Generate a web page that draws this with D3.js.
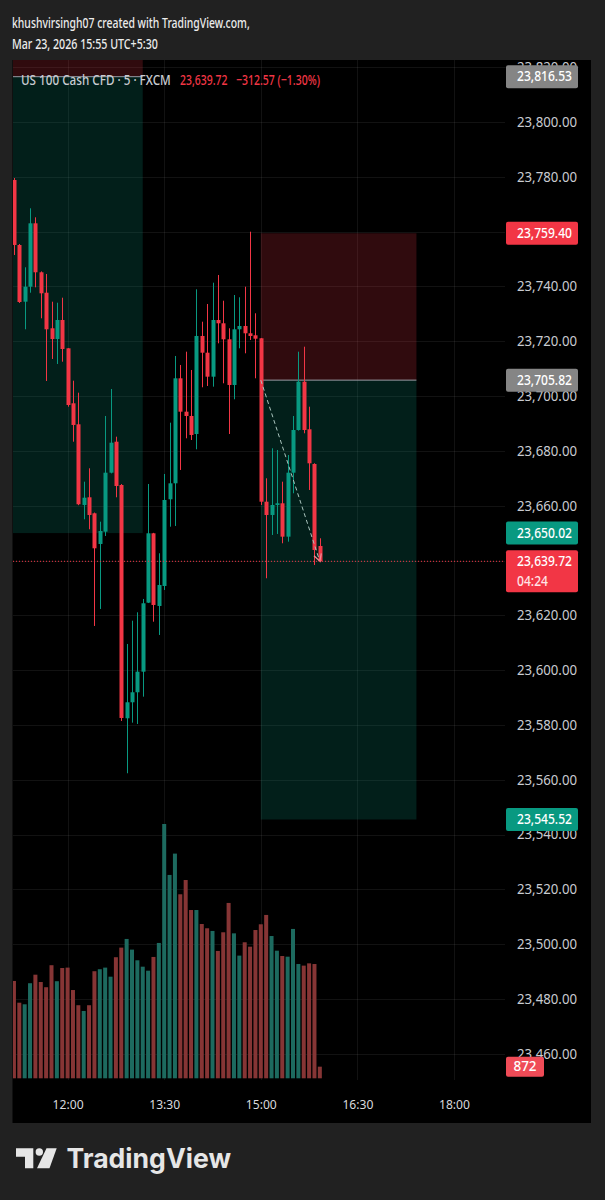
<!DOCTYPE html>
<html><head><meta charset="utf-8">
<script src="https://cdn.jsdelivr.net/npm/d3@7"></script>
<style>html,body{margin:0;padding:0;background:#212121;}svg{display:block}</style>
</head><body>
<svg id="c" width="605" height="1200"></svg>
<script>
// ---------- DATA ----------
const times = ["11:10","11:15","11:20","11:25","11:30","11:35","11:40","11:45","11:50","11:55",
"12:00","12:05","12:10","12:15","12:20","12:25","12:30","12:35","12:40","12:45","12:50","12:55",
"13:00","13:05","13:10","13:15","13:20","13:25","13:30","13:35","13:40","13:45","13:50","13:55",
"14:00","14:05","14:10","14:15","14:20","14:25","14:30","14:35","14:40","14:45","14:50","14:55",
"15:00","15:05","15:10","15:15","15:20","15:25","15:30","15:35","15:40","15:45","15:50","15:55"];
const opens = [23778.84,23755.13,23734.44,23739.91,23763.04,23745.17,23737.72,23724.74,23720.83,23727.76,
23717.44,23697.37,23689.71,23660.27,23663.08,23657.24,23646.04,23650.53,23672.05,23683.36,23667.57,23582.45,
23588.29,23591.94,23599.45,23624.63,23649.94,23623.42,23630.72,23662.35,23668.18,23706.49,23694.31,23692.74,
23686.17,23721.93,23715.83,23707.08,23727.76,23726.56,23720.72,23704.05,23724.37,23725.57,23722.91,23722.18,
23721.09,23661.47,23656.62,23660.27,23660.89,23648.71,23672.05,23687.63,23705.25,23687.89,23675.23,23645.31];
const highs = [23779.57,23755.49,23746.99,23768.52,23765.23,23745.50,23744.55,23734.44,23734.07,23735.90,
23717.50,23705.62,23701.24,23668.77,23673.66,23657.50,23654.18,23692.74,23702.59,23685.19,23667.90,23609.56,
23618.06,23621.12,23625.98,23667.93,23650.10,23642.65,23671.58,23690.30,23714.63,23711.35,23716.20,23709.52,
23738.96,23727.14,23733.60,23741.37,23744.18,23734.80,23724.74,23736.88,23736.04,23739.91,23759.98,23730.21,
23721.20,23670.01,23680.96,23680.34,23668.77,23678.51,23692.74,23716.20,23718.02,23696.13,23675.50,23648.12];
const lows = [23751.48,23733.97,23724.37,23737.72,23739.69,23728.38,23705.51,23713.54,23711.71,23712.55,
23696.13,23683.36,23660.20,23655.05,23651.41,23616.13,23622.33,23648.96,23671.80,23663.08,23581.47,23562.39,
23580.85,23580.37,23590.33,23624.50,23617.69,23612.84,23629.26,23652.35,23652.61,23673.04,23684.60,23683.98,
23680.59,23703.21,23703.68,23703.43,23719.26,23704.67,23686.17,23698.83,23717.44,23715.61,23720.47,23706.49,
23660.27,23633.53,23649.33,23649.69,23646.30,23646.88,23664.54,23687.40,23686.43,23665.74,23638.38,23639.40];
const closes = [23755.13,23734.33,23739.91,23763.04,23745.17,23737.50,23724.37,23720.83,23727.76,23717.18,
23696.75,23689.46,23660.53,23662.93,23656.62,23644.47,23650.78,23672.05,23683.00,23667.20,23582.56,23588.29,
23591.94,23599.45,23624.41,23649.94,23623.79,23631.08,23662.09,23668.18,23706.49,23694.31,23692.74,23685.81,
23721.93,23715.83,23707.08,23727.76,23726.56,23720.72,23704.05,23724.37,23725.57,23722.91,23721.93,23720.94,
23661.47,23656.62,23660.27,23660.89,23648.71,23672.05,23687.63,23705.25,23687.63,23675.48,23643.85,23639.72];
const volumes = [7300,5670,5550,7130,7770,7220,6830,8480,7280,8270,8300,6620,5480,5050,5480,8030,8180,8300,7620,
9080,9800,10450,9650,8850,8370,8070,9100,10150,19070,15250,16850,13800,14870,12620,12620,11570,11250,11050,
9550,10950,13150,10870,9200,10200,9870,11120,11550,12250,10670,9570,9170,9120,11200,8570,8450,8620,8570,872];

const priceTicks = [23460,23480,23500,23520,23540,23560,23580,23600,23620,23640,23660,23680,23700,23720,23740,23760,23780,23800,23820];
const timeTicks = ["12:00","13:30","15:00","16:30","18:00"];

// position tools: times [start, end]; levels [entry, stop, target]
const leftPosTimes = ["10:30","13:10"];
const leftPosLevels = [23816.53, 23840.00, 23650.02];
const rightPosTimes = ["15:00","17:25"];
const rightPosLevels = [23705.82, 23759.40, 23545.52];

const headerLines = ["khushvirsingh07 created with TradingView.com,", "Mar 23, 2026 15:55 UTC+5:30"];
const legendParts = ["US 100 Cash CFD · 5 · FXCM", "23,639.72", "−312.57 (−1.30%)"];
const lastVolumeLabel = "872";
const countdown = "04:24";

// ---------- SETUP ----------
const RED = "#F23645", TEAL = "#089981";
const VRED = "#863535", VTEAL = "#1d6a5f";
const FONT = "'Noto Sans', 'DejaVu Sans', sans-serif";
const parseT = s => { const [h,m] = s.split(":").map(Number); return new Date(2026,2,23,h,m); };

const svg = d3.select("#c");
const L = 13, R = 505, T = 60, B = 1080;
const x = d3.scaleTime().domain([parseT("12:00"), parseT("18:00")]).range([67.6, 454]);
const y = d3.scaleLinear().domain([23460, 23800]).range([1053.9, 122]);
const yv = d3.scaleLinear().domain([0, 19070]).range([1078.3, 824]);

const data = times.map((t,i)=>({t:parseT(t), o:opens[i], h:highs[i], l:lows[i], c:closes[i], v:volumes[i]}));

// fit a text to a target width by horizontal scaling (keeps glyph height)
function fitText(parent, str, x0, yb, w, attrs){
  const g = parent.append("g");
  const t = g.append("text").attr("x",0).attr("y",0).text(str);
  Object.entries(attrs).forEach(([k,v])=>t.attr(k,v));
  const nat = t.node().getComputedTextLength();
  g.attr("transform",`translate(${x0},${yb}) scale(${w/nat},1)`);
  return t;
}

// background panels
svg.append("rect").attr("x",0).attr("y",0).attr("width",605).attr("height",1200).attr("fill","#212121");
svg.append("rect").attr("x",12.5).attr("y",T).attr("width",578.5).attr("height",1123-T).attr("fill","#000");

const defs = svg.append("defs");
defs.append("clipPath").attr("id","plot").append("rect").attr("x",L).attr("y",T).attr("width",R-L).attr("height",B-T);
defs.append("clipPath").attr("id","axis").append("rect").attr("x",R).attr("y",T).attr("width",591-R).attr("height",B-T);

// header text
const hAttr = {"font-family":FONT,"font-size":15,"font-weight":500,"fill":"#ececec"};
fitText(svg, headerLines[0], 12, 27.5, 238, hAttr);
fitText(svg, headerLines[1], 12, 49, 146, hAttr);

const plot = svg.append("g").attr("clip-path","url(#plot)");

// grid
plot.append("g").selectAll("line").data(priceTicks).join("line")
  .attr("x1",L).attr("x2",R).attr("y1",d=>Math.round(y(d))+0.5).attr("y2",d=>Math.round(y(d))+0.5)
  .attr("stroke","rgba(255,255,255,0.07)").attr("stroke-width",1);
plot.append("g").selectAll("line").data(timeTicks).join("line")
  .attr("y1",T).attr("y2",B).attr("x1",d=>Math.round(x(parseT(d)))+0.5).attr("x2",d=>Math.round(x(parseT(d)))+0.5)
  .attr("stroke","rgba(255,255,255,0.07)").attr("stroke-width",1);

// position boxes
function posBox(tms, lv){
  const x0 = x(parseT(tms[0])), x1 = x(parseT(tms[1]));
  const [entry, stop, target] = lv;
  plot.append("rect").attr("x",x0).attr("width",x1-x0)
    .attr("y",Math.min(y(entry),y(stop))).attr("height",Math.abs(y(stop)-y(entry)))
    .attr("fill","rgba(242,54,69,0.2)");
  plot.append("rect").attr("x",x0).attr("width",x1-x0)
    .attr("y",Math.min(y(entry),y(target))).attr("height",Math.abs(y(target)-y(entry)))
    .attr("fill","rgba(8,153,129,0.2)");
  plot.append("line").attr("x1",x0).attr("x2",x1).attr("y1",y(entry)).attr("y2",y(entry))
    .attr("stroke","#9a9da5").attr("stroke-width",1);
}
posBox(leftPosTimes, leftPosLevels);
posBox(rightPosTimes, rightPosLevels);

// volume bars
const bw = 4;
plot.append("g").selectAll("rect").data(data).join("rect")
  .attr("x",d=>x(d.t)-bw/2).attr("width",bw)
  .attr("y",d=>yv(d.v)).attr("height",d=>yv(0)-yv(d.v))
  .attr("fill",d=>d.c>=d.o?VTEAL:VRED);

// candles
const cg = plot.append("g");
cg.selectAll("line").data(data).join("line")
  .attr("x1",d=>Math.round(x(d.t))+0.5).attr("x2",d=>Math.round(x(d.t))+0.5)
  .attr("y1",d=>y(d.h)).attr("y2",d=>y(d.l))
  .attr("stroke",d=>d.c>=d.o?TEAL:RED).attr("stroke-width",1);
cg.selectAll("rect").data(data).join("rect")
  .attr("x",d=>Math.round(x(d.t))+0.5-bw/2).attr("width",bw)
  .attr("y",d=>y(Math.max(d.o,d.c))).attr("height",d=>Math.max(1,Math.abs(y(d.o)-y(d.c))))
  .attr("fill",d=>d.c>=d.o?TEAL:RED);

// dashed projection line
const last = data[data.length-1];
const ax0 = x(parseT(rightPosTimes[0])), ay0 = y(rightPosLevels[0]);
const ax1 = x(last.t), ay1 = y(last.c);
plot.append("line").attr("x1",ax0).attr("y1",ay0).attr("x2",ax1).attr("y2",ay1)
  .attr("stroke","#a9c4bd").attr("stroke-width",1).attr("stroke-dasharray","4,3");
const ang = Math.atan2(ay1-ay0, ax1-ax0);
const ah = 8;
plot.append("path")
  .attr("d",`M${ax1-ah*Math.cos(ang-0.5)},${ay1-ah*Math.sin(ang-0.5)}L${ax1},${ay1}L${ax1-ah*Math.cos(ang+0.5)},${ay1-ah*Math.sin(ang+0.5)}`)
  .attr("fill","none").attr("stroke","#f08a95").attr("stroke-width",1.3);

// current price line
plot.append("line").attr("x1",L).attr("x2",R).attr("y1",y(last.c)).attr("y2",y(last.c))
  .attr("stroke",RED).attr("stroke-width",1).attr("stroke-dasharray","1,2");

// legend
const lAttr = {"font-family":FONT,"font-size":14.5,"font-weight":500};
fitText(svg, legendParts[0], 21, 85, 150, Object.assign({fill:"#c9cbd1"}, lAttr));
fitText(svg, legendParts[1], 180, 85, 47.5, Object.assign({fill:RED}, lAttr));
fitText(svg, legendParts[2], 236, 85, 84, Object.assign({fill:RED}, lAttr));

// price axis
const fmt = d3.format(",.2f");
const axG = svg.append("g").attr("clip-path","url(#axis)").append("g")
  .attr("transform","translate(517,0)")
  .call(d3.axisRight(y).tickValues(priceTicks).tickSize(0).tickPadding(0).tickFormat(fmt));
axG.select(".domain").remove();
axG.selectAll("text").attr("font-family",FONT).attr("font-size",13.5).attr("fill","#c9cbd1")
  .attr("text-anchor","start").attr("x",0).attr("textLength",60).attr("lengthAdjust","spacingAndGlyphs");

// time axis
const tx = svg.append("g").attr("transform",`translate(0,${B})`)
  .call(d3.axisBottom(x).tickValues(timeTicks.map(parseT)).tickSize(0).tickPadding(0).tickFormat(d3.timeFormat("%H:%M")));
tx.select(".domain").remove();
tx.selectAll("text").attr("font-family",FONT).attr("font-size",13).attr("fill","#d8d9dd")
  .attr("y",24).attr("dy","0.35em").attr("textLength",31).attr("lengthAdjust","spacingAndGlyphs");

// price labels
function priceLabel(v, fill, textFill, w){
  const cy = y(v);
  const g = svg.append("g").attr("clip-path","url(#axis)");
  g.append("rect").attr("x",506).attr("y",cy-11.5).attr("width",w||72).attr("height",23).attr("rx",2).attr("fill",fill);
  g.append("text").attr("x",517).attr("y",cy).attr("dy","0.35em").attr("font-family",FONT).attr("font-size",13.5)
    .attr("font-weight",500).attr("fill",textFill).attr("textLength",55).attr("lengthAdjust","spacingAndGlyphs").text(fmt(v));
}
priceLabel(leftPosLevels[0], "#858585", "#ffffff");
priceLabel(rightPosLevels[1], RED, "#ffffff");
priceLabel(rightPosLevels[0], "#858585", "#ffffff");
priceLabel(leftPosLevels[2], TEAL, "#ffffff");
priceLabel(rightPosLevels[2], TEAL, "#ffffff");

// current price label (two lines)
{
  const cy = y(last.c);
  svg.append("rect").attr("x",506).attr("y",cy-11).attr("width",72).attr("height",42).attr("rx",2).attr("fill",RED);
  svg.append("text").attr("x",517).attr("y",cy).attr("dy","0.35em").attr("font-family",FONT).attr("font-size",13.5)
    .attr("font-weight",500).attr("fill","#fff").attr("textLength",55).attr("lengthAdjust","spacingAndGlyphs").text(fmt(last.c));
  svg.append("text").attr("x",517).attr("y",cy+20).attr("dy","0.35em").attr("font-family",FONT).attr("font-size",13.5)
    .attr("font-weight",500).attr("fill","#ffe4e6").attr("textLength",31).attr("lengthAdjust","spacingAndGlyphs").text(countdown);
}
// volume label
{
  const cy = yv(last.v);
  svg.append("rect").attr("x",506).attr("y",cy-10).attr("width",38).attr("height",20).attr("rx",2).attr("fill","#ef4b57");
  svg.append("text").attr("x",525).attr("y",cy).attr("dy","0.35em").attr("text-anchor","middle").attr("font-family",FONT)
    .attr("font-size",13.5).attr("font-weight",500).attr("fill","#fff").text(lastVolumeLabel);
}

// TradingView logo
const logo = svg.append("g").attr("fill","#e6e6e6");
logo.append("path").attr("d","M16,1148.3H33.3V1168.3H25V1156.7H16Z");
logo.append("circle").attr("cx",39.3).attr("cy",1152).attr("r",3.7);
logo.append("path").attr("d","M46.5,1148.3H56.7L49.5,1168.3H37Z");
logo.append("text").attr("x",66.5).attr("y",1168.3).attr("font-family","Inter, 'Noto Sans', sans-serif")
  .attr("font-size",27).attr("font-weight",700).attr("textLength",164.5).attr("lengthAdjust","spacingAndGlyphs").text("TradingView");
</script>
</body></html>
